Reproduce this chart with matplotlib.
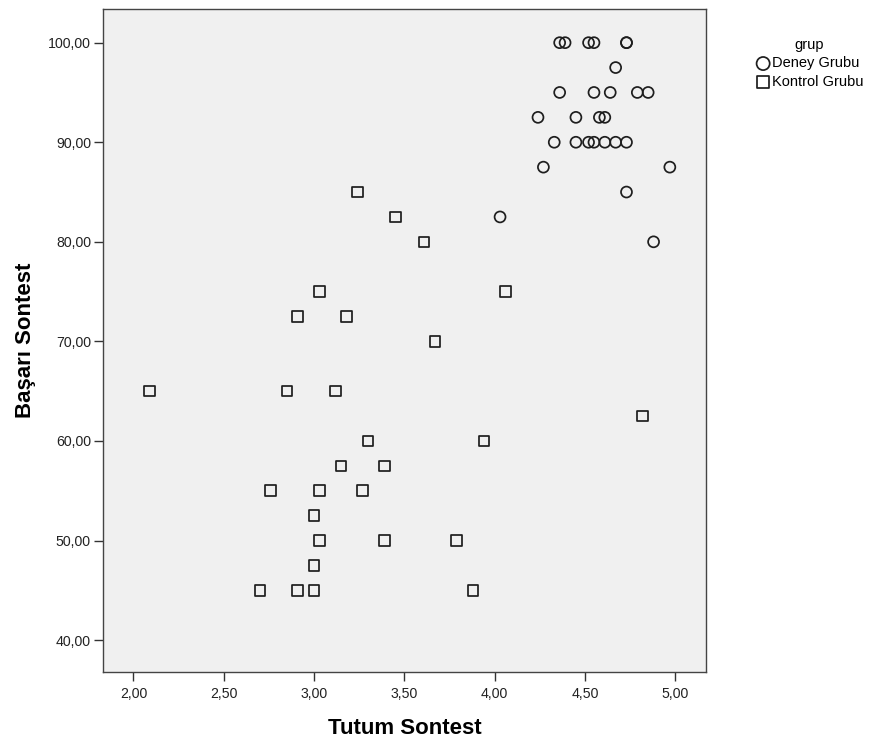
from typing import List

import matplotlib

matplotlib.use("Agg")
import matplotlib.pyplot as plt

plt.rcParams["font.family"] = ["Liberation Sans", "DejaVu Sans"]

# Deney Grubu (circles)
deney_tutum = [
    4.36, 4.39, 4.52, 4.55, 4.73, 4.73,
    4.67,
    4.36, 4.55, 4.64, 4.79, 4.85,
    4.24, 4.45, 4.58, 4.61,
    4.33, 4.45, 4.52, 4.55, 4.61, 4.67, 4.73,
    4.27, 4.97,
    4.73,
    4.03,
    4.88,
]
deney_basari = [
    100, 100, 100, 100, 100, 100,
    97.5,
    95, 95, 95, 95, 95,
    92.5, 92.5, 92.5, 92.5,
    90, 90, 90, 90, 90, 90, 90,
    87.5, 87.5,
    85,
    82.5,
    80,
]

# Kontrol Grubu (squares)
kontrol_tutum = [
    3.24, 3.45, 3.61,
    3.03, 4.06,
    2.91, 3.18,
    3.67,
    2.09, 2.85, 3.12,
    4.82,
    3.30, 3.94,
    3.15, 3.39,
    2.76, 3.03, 3.27,
    3.00,
    3.03, 3.39, 3.79,
    3.00,
    2.70, 2.91, 3.00, 3.88,
]
kontrol_basari = [
    85, 82.5, 80,
    75, 75,
    72.5, 72.5,
    70,
    65, 65, 65,
    62.5,
    60, 60,
    57.5, 57.5,
    55, 55, 55,
    52.5,
    50, 50, 50,
    47.5,
    45, 45, 45, 45,
]

x_ticks = [2.0, 2.5, 3.0, 3.5, 4.0, 4.5, 5.0]
y_ticks = [40, 50, 60, 70, 80, 90, 100]


def tr_format(values: List[float]) -> List[str]:
    # SPSS style labels with decimal comma
    return [f"{v:.2f}".replace(".", ",") for v in values]


fig = plt.figure(figsize=(8.83, 7.45), dpi=100)
ax = fig.add_axes([0.1163, 0.098, 0.6832, 0.8895])
ax.set_facecolor("#f0f0f0")

ax.scatter(
    deney_tutum, deney_basari, marker="o", s=62, facecolors="none",
    edgecolors="#1e1e1e", linewidths=1.25, label="Deney Grubu", zorder=3,
)
ax.scatter(
    kontrol_tutum, kontrol_basari, marker="s", s=58, facecolors="none",
    edgecolors="#1e1e1e", linewidths=1.25, label="Kontrol Grubu", zorder=3,
)

ax.set_xlim(1.83, 5.17)
ax.set_ylim(36.8, 103.35)
ax.set_xticks(x_ticks)
ax.set_xticklabels(tr_format(x_ticks))
ax.set_yticks(y_ticks)
ax.set_yticklabels(tr_format(y_ticks))
ax.tick_params(length=6.5, width=1.0, color="#333333", labelsize=10.2,
               labelcolor="#222222")
ax.tick_params(axis="x", pad=4.5)
ax.tick_params(axis="y", pad=2)

for spine in ax.spines.values():
    spine.set_color("#444444")
    spine.set_linewidth(1.0)

ax.set_xlabel("Tutum Sontest", fontsize=16, fontweight="bold", labelpad=12)
ax.set_ylabel("Başarı Sontest", fontsize=16, fontweight="bold", labelpad=9)

leg = ax.legend(
    title="grup", loc="upper left", bbox_to_anchor=(0.856, 0.949),
    bbox_transform=fig.transFigure, frameon=False, fontsize=10.5,
    title_fontsize=10.5, handletextpad=0.1, handlelength=1.0,
    borderaxespad=0, borderpad=0, labelspacing=0.3, markerscale=1.2,
)

fig.savefig("out.png", dpi=100)
